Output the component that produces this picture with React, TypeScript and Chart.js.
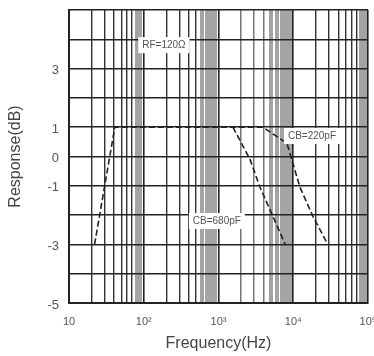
import React, { useEffect, useRef } from "react";
import { Chart, registerables } from "chart.js";

Chart.register(...registerables);

// Frequency response data (Hz, dB)
const cb220Freq = [22, 41, 3940, 8240, 12300, 18400, 29000];
const cb220Resp = [-3, 1, 1, 0.45, -1.05, -2.05, -3];
const cb680Freq = [1560, 2640, 3590, 5360, 7800];
const cb680Resp = [1, -0.1, -1.05, -2.05, -3];

const yLabelValues = [3, 1, 0, -1, -3, -5];
const xTickLabels: Record<number, string> = {
  10: "10",
  100: "10²",
  1000: "10³",
  10000: "10⁴",
  100000: "10⁵",
};

const annotations = [
  { text: "RF=120Ω", x: 186, y: 3.8 },
  { text: "CB=220pF", x: 17800, y: 0.7 },
  { text: "CB=680pF", x: 950, y: -2.2 },
];

// mantissa at which dense grey band starts, per decade
const bandStart = [8, 6, 5, 8];

const FONT = "'Liberation Sans', Arial, sans-serif";

function toPoints(xs: number[], ys: number[]) {
  return xs.map((x, i) => ({ x, y: ys[i] }));
}

const labelPlugin = {
  id: "labels",
  afterDatasetsDraw(chart: any) {
    const { ctx, scales } = chart;
    ctx.save();
    ctx.font = `10px ${FONT}`;
    ctx.textAlign = "center";
    ctx.textBaseline = "middle";
    for (const a of annotations) {
      const px = scales.x.getPixelForValue(a.x);
      const py = scales.y.getPixelForValue(a.y);
      const w = ctx.measureText(a.text).width;
      ctx.fillStyle = "#ffffff";
      ctx.fillRect(px - w / 2 - 4, py - 8, w + 8, 16);
      ctx.fillStyle = "#555555";
      ctx.fillText(a.text, px, py);
    }
    ctx.restore();
  },
};

function gridStyle(value: number) {
  const dec = Math.floor(Math.log10(value) + 1e-9);
  const m = Math.round(value / Math.pow(10, dec));
  const d = dec - 1;
  if (m === 1) return { color: "#222222", width: 1.6 };
  if (d >= 0 && d < bandStart.length && m >= bandStart[d]) {
    return { color: "#a4a4a4", width: 4 };
  }
  if (d === 2) return { color: "#777777", width: 1.5 };
  return { color: "#333333", width: 1.4 };
}

export default function App() {
  const ref = useRef<HTMLCanvasElement | null>(null);
  useEffect(() => {
    document.body.style.margin = "0";
    const canvas = ref.current!;
    const chart = new Chart(canvas, {
      type: "line",
      data: {
        datasets: [
          {
            data: toPoints(cb220Freq, cb220Resp),
            borderColor: "#222",
            borderWidth: 1.6,
            borderDash: [6, 3],
            pointRadius: 0,
            fill: false,
            tension: 0,
          },
          {
            data: toPoints(cb680Freq, cb680Resp),
            borderColor: "#222",
            borderWidth: 1.6,
            borderDash: [6, 3],
            pointRadius: 0,
            fill: false,
            tension: 0,
          },
        ],
      },
      options: {
        animation: false,
        responsive: false,
        maintainAspectRatio: false,
        layout: { padding: { top: 10, right: 6, left: 0, bottom: 0 } },
        plugins: { legend: { display: false }, tooltip: { enabled: false } },
        scales: {
          x: {
            type: "logarithmic",
            min: 10,
            max: 100000,
            afterBuildTicks(scale: any) {
              const t: any[] = [];
              for (let d = 1; d <= 4; d++) {
                for (let m = 1; m <= 9; m++) t.push({ value: m * Math.pow(10, d) });
              }
              t.push({ value: 100000 });
              scale.ticks = t;
            },
            afterFit(scale: any) {
              scale.height = 53;
              scale.paddingLeft = 0;
              scale.paddingRight = 0;
            },
            grid: {
              drawTicks: false,
              color: (c: any) => gridStyle(c.tick.value).color,
              lineWidth: (c: any) => gridStyle(c.tick.value).width,
            },
            border: { display: true, color: "#222", width: 2 },
            ticks: {
              autoSkip: false,
              maxRotation: 0,
              padding: 12,
              color: "#555",
              font: { size: 11, family: FONT },
              callback: (v: any) => xTickLabels[Math.round(Number(v))] ?? "",
            },
            title: {
              display: true,
              text: "Frequency(Hz)",
              color: "#444",
              font: { size: 16, family: FONT },
              padding: { top: 0, bottom: 3 },
            },
          },
          y: {
            type: "linear",
            min: -5,
            max: 5,
            afterFit(scale: any) {
              scale.width = 69;
              scale.paddingTop = 0;
              scale.paddingBottom = 0;
            },
            grid: { drawTicks: false, color: "#222", lineWidth: 1.6 },
            border: { display: true, color: "#222", width: 2 },
            ticks: {
              stepSize: 1,
              padding: 10,
              labelOffset: 2,
              color: "#555",
              font: { size: 13, family: FONT },
              callback: (v: any) =>
                yLabelValues.includes(Number(v)) ? String(v) : "",
            },
            title: {
              display: true,
              text: "Response(dB)",
              color: "#444",
              font: { size: 16, family: FONT },
              padding: { top: 6, bottom: 0 },
            },
          },
        },
      },
      plugins: [labelPlugin],
    } as any);
    return () => chart.destroy();
  }, []);
  return (
    <div style={{ width: 374, height: 356 }}>
      <canvas ref={ref} width={374} height={356} style={{ display: "block" }} />
    </div>
  );
}
